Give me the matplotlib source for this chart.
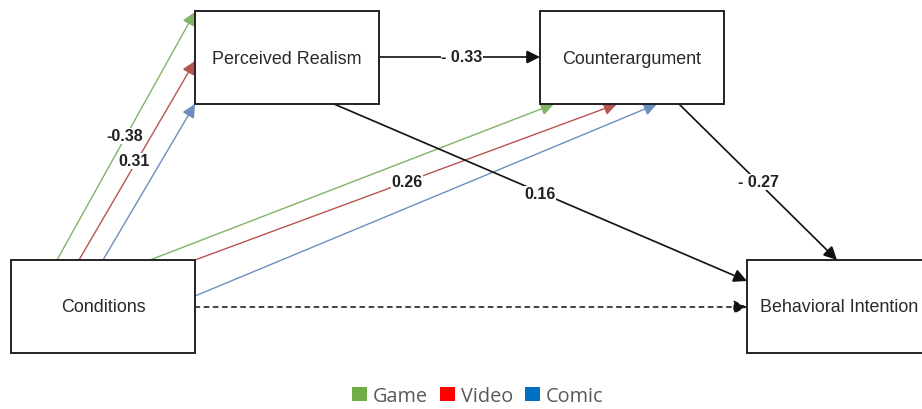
import matplotlib
matplotlib.use("Agg")
import matplotlib.pyplot as plt
from matplotlib.patches import Rectangle, FancyArrowPatch, Patch

# ---- data ----
node_names = ["Perceived Realism", "Counterargument", "Conditions", "Behavioral Intention"]
groups = ["Game", "Video", "Comic"]
group_legend_colors = ["#70AD47", "#FF0000", "#0070C0"]
group_line_colors = ["#82b366", "#b85450", "#6c8ebf"]
cond_to_pr_labels = ["-0.38", "0.31", ""]
cond_to_ca_labels = ["", "0.26", ""]
pr_to_ca_label = "- 0.33"
pr_to_bi_label = "0.16"
ca_to_bi_label = "- 0.27"

# ---- layout (pixel coordinates) ----
W, H = 922, 410
fig = plt.figure(figsize=(W / 100, H / 100), dpi=100)
ax = fig.add_axes([0, 0, 1, 1])
ax.set_xlim(0, W)
ax.set_ylim(H, 0)
ax.axis("off")

boxes = {
    "Perceived Realism": (195, 12, 184, 93),
    "Counterargument": (540, 12, 184, 93),
    "Conditions": (11, 261, 184, 93),
    "Behavioral Intention": (747, 261, 184, 93),
}
font_node = dict(family=["Liberation Sans", "DejaVu Sans"], fontsize=12.9, color="#2a2a2a")
for name in node_names:
    x, y, w, h = boxes[name]
    ax.add_patch(Rectangle((x, y), w, h, facecolor="white", edgecolor="#222222", lw=1.4, zorder=3))
    ax.text(x + w / 2, y + h / 2 + 0.5, name, ha="center", va="center", zorder=4, **font_node)


def arrow(p0, p1, color, ls="-", lw=1.0):
    a = FancyArrowPatch(p0, p1, arrowstyle="-|>,head_length=0.8,head_width=0.4",
                        mutation_scale=10, color=color, lw=lw, linestyle=ls,
                        shrinkA=0, shrinkB=0, zorder=2, joinstyle="miter")
    ax.add_patch(a)


label_font = dict(family=["Liberation Sans", "DejaVu Sans"], fontsize=11.5, fontweight="bold",
                  color="#222222", ha="center", va="center", zorder=5,
                  bbox=dict(facecolor="white", edgecolor="none", pad=0.6))

# Conditions -> Perceived Realism
pr_starts = [(57, 261), (79, 261), (103, 261)]
pr_ends = [(195, 13), (195, 62), (195, 105)]
for s, e, c in zip(pr_starts, pr_ends, group_line_colors):
    arrow(s, e, c)
pr_label_pos = [(125, 137), (134, 162), None]
for lab, pos in zip(cond_to_pr_labels, pr_label_pos):
    if lab:
        ax.text(pos[0], pos[1], lab, **label_font)

# Conditions -> Counterargument
ca_starts = [(150, 261), (195, 261), (195, 297)]
ca_ends = [(554, 105), (617, 105), (657, 105)]
for s, e, c in zip(ca_starts, ca_ends, group_line_colors):
    arrow(s, e, c)
ca_label_pos = [None, (407, 183), None]
for lab, pos in zip(cond_to_ca_labels, ca_label_pos):
    if lab:
        ax.text(pos[0], pos[1], lab, **label_font)

# black paths
arrow((379, 58), (540, 58), "#111111", lw=1.2)
ax.text(462, 58, pr_to_ca_label, **label_font)
arrow((334, 105), (747, 282), "#111111", lw=1.2)
ax.text(540, 195, pr_to_bi_label, **label_font)
arrow((679, 105), (837, 261), "#111111", lw=1.2)
ax.text(758, 183, ca_to_bi_label, **label_font)
arrow((195, 308), (747, 308), "#111111", ls=(0, (3, 3)), lw=1.1)

# legend
handles = [Patch(facecolor=c, edgecolor="none", label=g) for g, c in zip(groups, group_legend_colors)]
fig.legend(handles=handles, loc="center", bbox_to_anchor=(478 / W, 1 - 397 / H), ncol=3,
           frameon=False, handlelength=0.75, handleheight=0.75, handletextpad=0.3,
           columnspacing=0.6, labelcolor="#595959",
           prop=dict(family=["Open Sans", "DejaVu Sans"], size=14.3))

fig.savefig("out.png", dpi=100)
